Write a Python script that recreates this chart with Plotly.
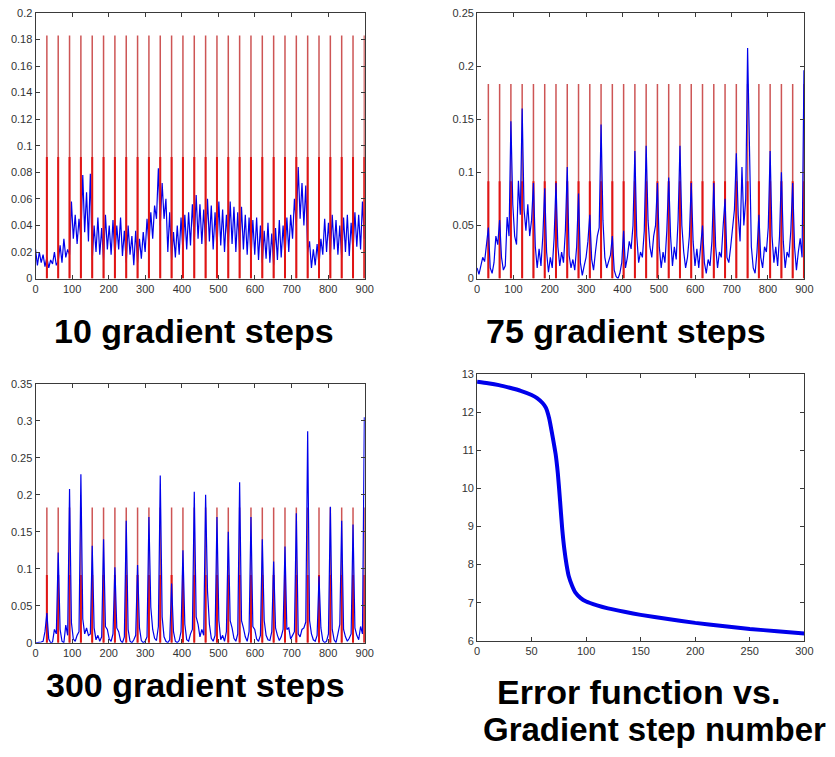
import numpy as np
import plotly.graph_objects as go

# ---------------- data ----------------
# sample positions (175 samples spanning 0..899; every 6th sample falls on a red pulse)
n_samples = 175
sample_step = 31 / 6

# red reference pulse train (same in the three top/left panels)
red_positions = [31, 62, 93, 124, 155, 186, 217, 248, 279, 310, 341, 372, 403, 434, 465,
                 496, 527, 558, 589, 620, 651, 682, 713, 744, 775, 806, 837, 868, 899]
red_full_height = 0.183
red_half_height = 0.0915

# blue estimate after 10 gradient steps
blue_10 = [
    0.022, 0.010, 0.020, 0.012, 0.018, 0.009,
    0.016, 0.008, 0.014, 0.011, 0.020, 0.010,
    0.013, 0.025, 0.012, 0.030, 0.016, 0.022,
    0.018, 0.058, 0.030, 0.048, 0.026, 0.045,
    0.030, 0.078, 0.035, 0.065, 0.028, 0.079,
    0.014, 0.040, 0.020, 0.046, 0.018, 0.038,
    0.014, 0.048, 0.022, 0.040, 0.018, 0.044,
    0.016, 0.040, 0.022, 0.046, 0.017, 0.036,
    0.012, 0.040, 0.018, 0.032, 0.010, 0.036,
    0.012, 0.030, 0.015, 0.035, 0.020, 0.045,
    0.025, 0.050, 0.030, 0.055, 0.045, 0.083,
    0.040, 0.072, 0.045, 0.060, 0.020, 0.050,
    0.014, 0.035, 0.016, 0.040, 0.018, 0.046,
    0.020, 0.048, 0.022, 0.050, 0.025, 0.056,
    0.028, 0.063, 0.030, 0.056, 0.026, 0.052,
    0.025, 0.060, 0.028, 0.055, 0.022, 0.050,
    0.022, 0.058, 0.025, 0.052, 0.020, 0.048,
    0.024, 0.058, 0.026, 0.054, 0.020, 0.050,
    0.020, 0.054, 0.022, 0.048, 0.018, 0.046,
    0.015, 0.044, 0.018, 0.046, 0.014, 0.040,
    0.012, 0.036, 0.015, 0.042, 0.012, 0.034,
    0.010, 0.038, 0.014, 0.044, 0.016, 0.040,
    0.016, 0.046, 0.020, 0.048, 0.030, 0.060,
    0.040, 0.084, 0.045, 0.072, 0.040, 0.070,
    0.020, 0.028, 0.008, 0.022, 0.010, 0.026,
    0.010, 0.030, 0.018, 0.045, 0.020, 0.042,
    0.018, 0.048, 0.022, 0.044, 0.018, 0.040,
    0.016, 0.046, 0.020, 0.048, 0.017, 0.042,
    0.020, 0.050, 0.024, 0.048, 0.022, 0.058,
    0.030,
]

# blue estimate after 75 gradient steps
blue_75 = [
    0.010, 0.004, 0.012, 0.020, 0.016, 0.030,
    0.048, 0.010, 0.005, 0.015, 0.040, 0.032,
    0.055, 0.020, 0.008, 0.012, 0.058, 0.040,
    0.148, 0.070, 0.040, 0.032, 0.092, 0.060,
    0.160, 0.065, 0.045, 0.070, 0.040, 0.055,
    0.090, 0.030, 0.010, 0.028, 0.012, 0.040,
    0.085, 0.025, 0.006, 0.020, 0.010, 0.038,
    0.090, 0.030, 0.012, 0.025, 0.015, 0.045,
    0.105, 0.022, 0.010, 0.018, 0.008, 0.030,
    0.080, 0.015, 0.003, 0.012, 0.020, 0.035,
    0.060, 0.018, 0.008, 0.025, 0.040, 0.048,
    0.145, 0.055, 0.020, 0.010, 0.015, 0.022,
    0.040, 0.008, 0.002, 0.000, 0.005, 0.015,
    0.045, 0.010, 0.020, 0.035, 0.028, 0.050,
    0.120, 0.040, 0.015, 0.025, 0.020, 0.045,
    0.125, 0.055, 0.030, 0.020, 0.040, 0.050,
    0.090, 0.030, 0.010, 0.025, 0.015, 0.045,
    0.095, 0.040, 0.012, 0.030, 0.018, 0.055,
    0.125, 0.050, 0.025, 0.010, 0.020, 0.040,
    0.090, 0.035, 0.012, 0.028, 0.010, 0.030,
    0.050, 0.015, 0.005, 0.018, 0.012, 0.035,
    0.090, 0.030, 0.010, 0.025, 0.020, 0.050,
    0.075, 0.020, 0.015, 0.030, 0.045, 0.065,
    0.118, 0.060, 0.035, 0.105, 0.050, 0.075,
    0.217, 0.120, 0.030, 0.010, 0.005, 0.025,
    0.060, 0.020, 0.010, 0.030, 0.025, 0.048,
    0.120, 0.040, 0.015, 0.030, 0.012, 0.040,
    0.100, 0.035, 0.010, 0.025, 0.020, 0.045,
    0.090, 0.030, 0.008, 0.025, 0.038, 0.020,
    0.196,
]

# blue estimate after 300 gradient steps
blue_300 = [
    0.000, 0.000, 0.000, 0.001, 0.002, 0.015,
    0.040, 0.005, 0.000, 0.001, 0.018, 0.012,
    0.122, 0.018, 0.002, 0.000, 0.024, 0.010,
    0.208, 0.027, 0.005, 0.002, 0.010, 0.015,
    0.228, 0.032, 0.012, 0.020, 0.010, 0.012,
    0.131, 0.020, 0.004, 0.010, 0.002, 0.008,
    0.140, 0.022, 0.018, 0.005, 0.002, 0.012,
    0.102, 0.020, 0.015, 0.003, 0.000, 0.008,
    0.165, 0.018, 0.002, 0.000, 0.004, 0.010,
    0.105, 0.020, 0.003, 0.000, 0.002, 0.008,
    0.170, 0.048, 0.018, 0.006, 0.003, 0.022,
    0.226, 0.035, 0.008, 0.002, 0.000, 0.004,
    0.080, 0.015, 0.002, 0.000, 0.003, 0.015,
    0.125, 0.025, 0.004, 0.002, 0.012, 0.018,
    0.204, 0.035, 0.025, 0.008, 0.018, 0.010,
    0.200, 0.070, 0.025, 0.006, 0.002, 0.010,
    0.170, 0.030, 0.004, 0.010, 0.002, 0.015,
    0.150, 0.030, 0.020, 0.006, 0.002, 0.012,
    0.217, 0.030, 0.020, 0.008, 0.002, 0.015,
    0.170, 0.022, 0.018, 0.005, 0.002, 0.010,
    0.140, 0.030, 0.010, 0.004, 0.003, 0.015,
    0.110, 0.020, 0.010, 0.003, 0.008, 0.018,
    0.130, 0.018, 0.020, 0.005, 0.010, 0.015,
    0.175, 0.012, 0.008, 0.018, 0.020, 0.028,
    0.286, 0.030, 0.012, 0.004, 0.002, 0.010,
    0.090, 0.020, 0.003, 0.000, 0.002, 0.012,
    0.184, 0.018, 0.004, 0.000, 0.012, 0.025,
    0.165, 0.018, 0.008, 0.002, 0.006, 0.012,
    0.160, 0.020, 0.010, 0.004, 0.022, 0.012,
    0.305,
]

# error function vs gradient step number
err_steps = [0, 10, 20, 30, 40, 50, 55, 60, 63, 66, 69, 72, 74, 76, 78, 80, 82, 84, 87,
             90, 95, 100, 110, 120, 135, 150, 175, 200, 225, 250, 275, 300]
err_values = [12.80, 12.76, 12.71, 12.64, 12.56, 12.45, 12.37, 12.24, 12.12, 11.85, 11.40,
              10.90, 10.40, 9.70, 8.95, 8.40, 8.00, 7.70, 7.45, 7.27, 7.12, 7.03, 6.93,
              6.85, 6.76, 6.68, 6.57, 6.47, 6.39, 6.31, 6.25, 6.19]

titles = ["10 gradient steps", "75 gradient steps", "300 gradient steps",
          "Error function vs.", "Gradient step number"]

# ---------------- figure ----------------
W, H = 835, 757
sample_x = np.arange(n_samples) * sample_step


def stems(positions, height):
    xs, ys = [], []
    for p in positions:
        xs += [p, p, None]
        ys += [0, height, None]
    return xs, ys


def px_dom(a, b, total):
    return [a / total, b / total]


def py_dom(top, bottom):
    return [1 - bottom / H, 1 - top / H]


fig = go.Figure()

panels = [
    dict(x=px_dom(33, 367, W), y=py_dom(7, 277), blue=blue_10, ymax=0.2, dtick=0.02, red_top=True, bw=1.2),
    dict(x=px_dom(481, 813, W), y=py_dom(7, 277), blue=blue_75, ymax=0.25, dtick=0.05, red_top=False, bw=1.2),
    dict(x=px_dom(33, 367, W), y=py_dom(384, 647), blue=blue_300, ymax=0.35, dtick=0.05, red_top=False, bw=1.2),
]

red_full_color = "rgb(205,85,85)"
red_half_color = "rgb(225,20,20)"
blue_color = "rgb(0,0,235)"

axis_common = dict(showline=True, mirror="ticks", linecolor="#3a3a3a", linewidth=1,
                   ticks="inside", ticklen=4, tickcolor="#3a3a3a", showgrid=False,
                   zeroline=False, tickfont=dict(family="Liberation Sans, Arial", size=11, color="#333333"))

layout_axes = {}
for i, pn in enumerate(panels, start=1):
    xa = "x" if i == 1 else f"x{i}"
    ya = "y" if i == 1 else f"y{i}"
    rx, ry = stems(red_positions, red_full_height)
    hx, hy = stems(red_positions, red_half_height)
    red_traces = [
        go.Scatter(x=rx, y=ry, mode="lines", line=dict(color=red_full_color, width=1.5),
                   xaxis=xa, yaxis=ya, showlegend=False, hoverinfo="skip"),
        go.Scatter(x=hx, y=hy, mode="lines", line=dict(color=red_half_color, width=2),
                   xaxis=xa, yaxis=ya, showlegend=False, hoverinfo="skip"),
    ]
    blue_trace = go.Scatter(x=sample_x, y=pn["blue"], mode="lines",
                            line=dict(color=blue_color, width=pn["bw"]),
                            xaxis=xa, yaxis=ya, showlegend=False)
    if pn["red_top"]:
        fig.add_trace(blue_trace)
        for t in red_traces:
            fig.add_trace(t)
    else:
        for t in red_traces:
            fig.add_trace(t)
        fig.add_trace(blue_trace)
    layout_axes["xaxis" if i == 1 else f"xaxis{i}"] = dict(
        domain=pn["x"], range=[0, 900], tick0=0, dtick=100, anchor=ya, **axis_common)
    layout_axes["yaxis" if i == 1 else f"yaxis{i}"] = dict(
        domain=pn["y"], range=[0, pn["ymax"]], tick0=0, dtick=pn["dtick"], anchor=xa, **axis_common)

# error function panel
fig.add_trace(go.Scatter(x=err_steps, y=err_values, mode="lines",
                         line=dict(color=blue_color, width=4, shape="spline", smoothing=0.6),
                         xaxis="x4", yaxis="y4", showlegend=False))
layout_axes["xaxis4"] = dict(domain=px_dom(481, 813, W), range=[0, 300], tick0=0, dtick=50,
                             anchor="y4", **axis_common)
layout_axes["yaxis4"] = dict(domain=py_dom(374, 645), range=[6, 13], tick0=6, dtick=1,
                             anchor="x4", **axis_common)

title_pos = [(194, 330), (632, 330), (195, 690), (645, 697), (661, 735)]
title_sizes = [34, 34, 34, 34, 33]
annotations = []
for txt, (cx, cy), fs in zip(titles, title_pos, title_sizes):
    annotations.append(dict(text=f"<b>{txt}</b>", x=cx / W, y=1 - cy / H, xref="paper", yref="paper",
                            xanchor="center", yanchor="middle", showarrow=False,
                            font=dict(family="Liberation Sans, Arial", size=fs, color="black")))

fig.update_layout(width=W, height=H, margin=dict(l=0, r=0, t=0, b=0),
                  paper_bgcolor="white", plot_bgcolor="white",
                  annotations=annotations, **layout_axes)

fig.write_html("out.html")
